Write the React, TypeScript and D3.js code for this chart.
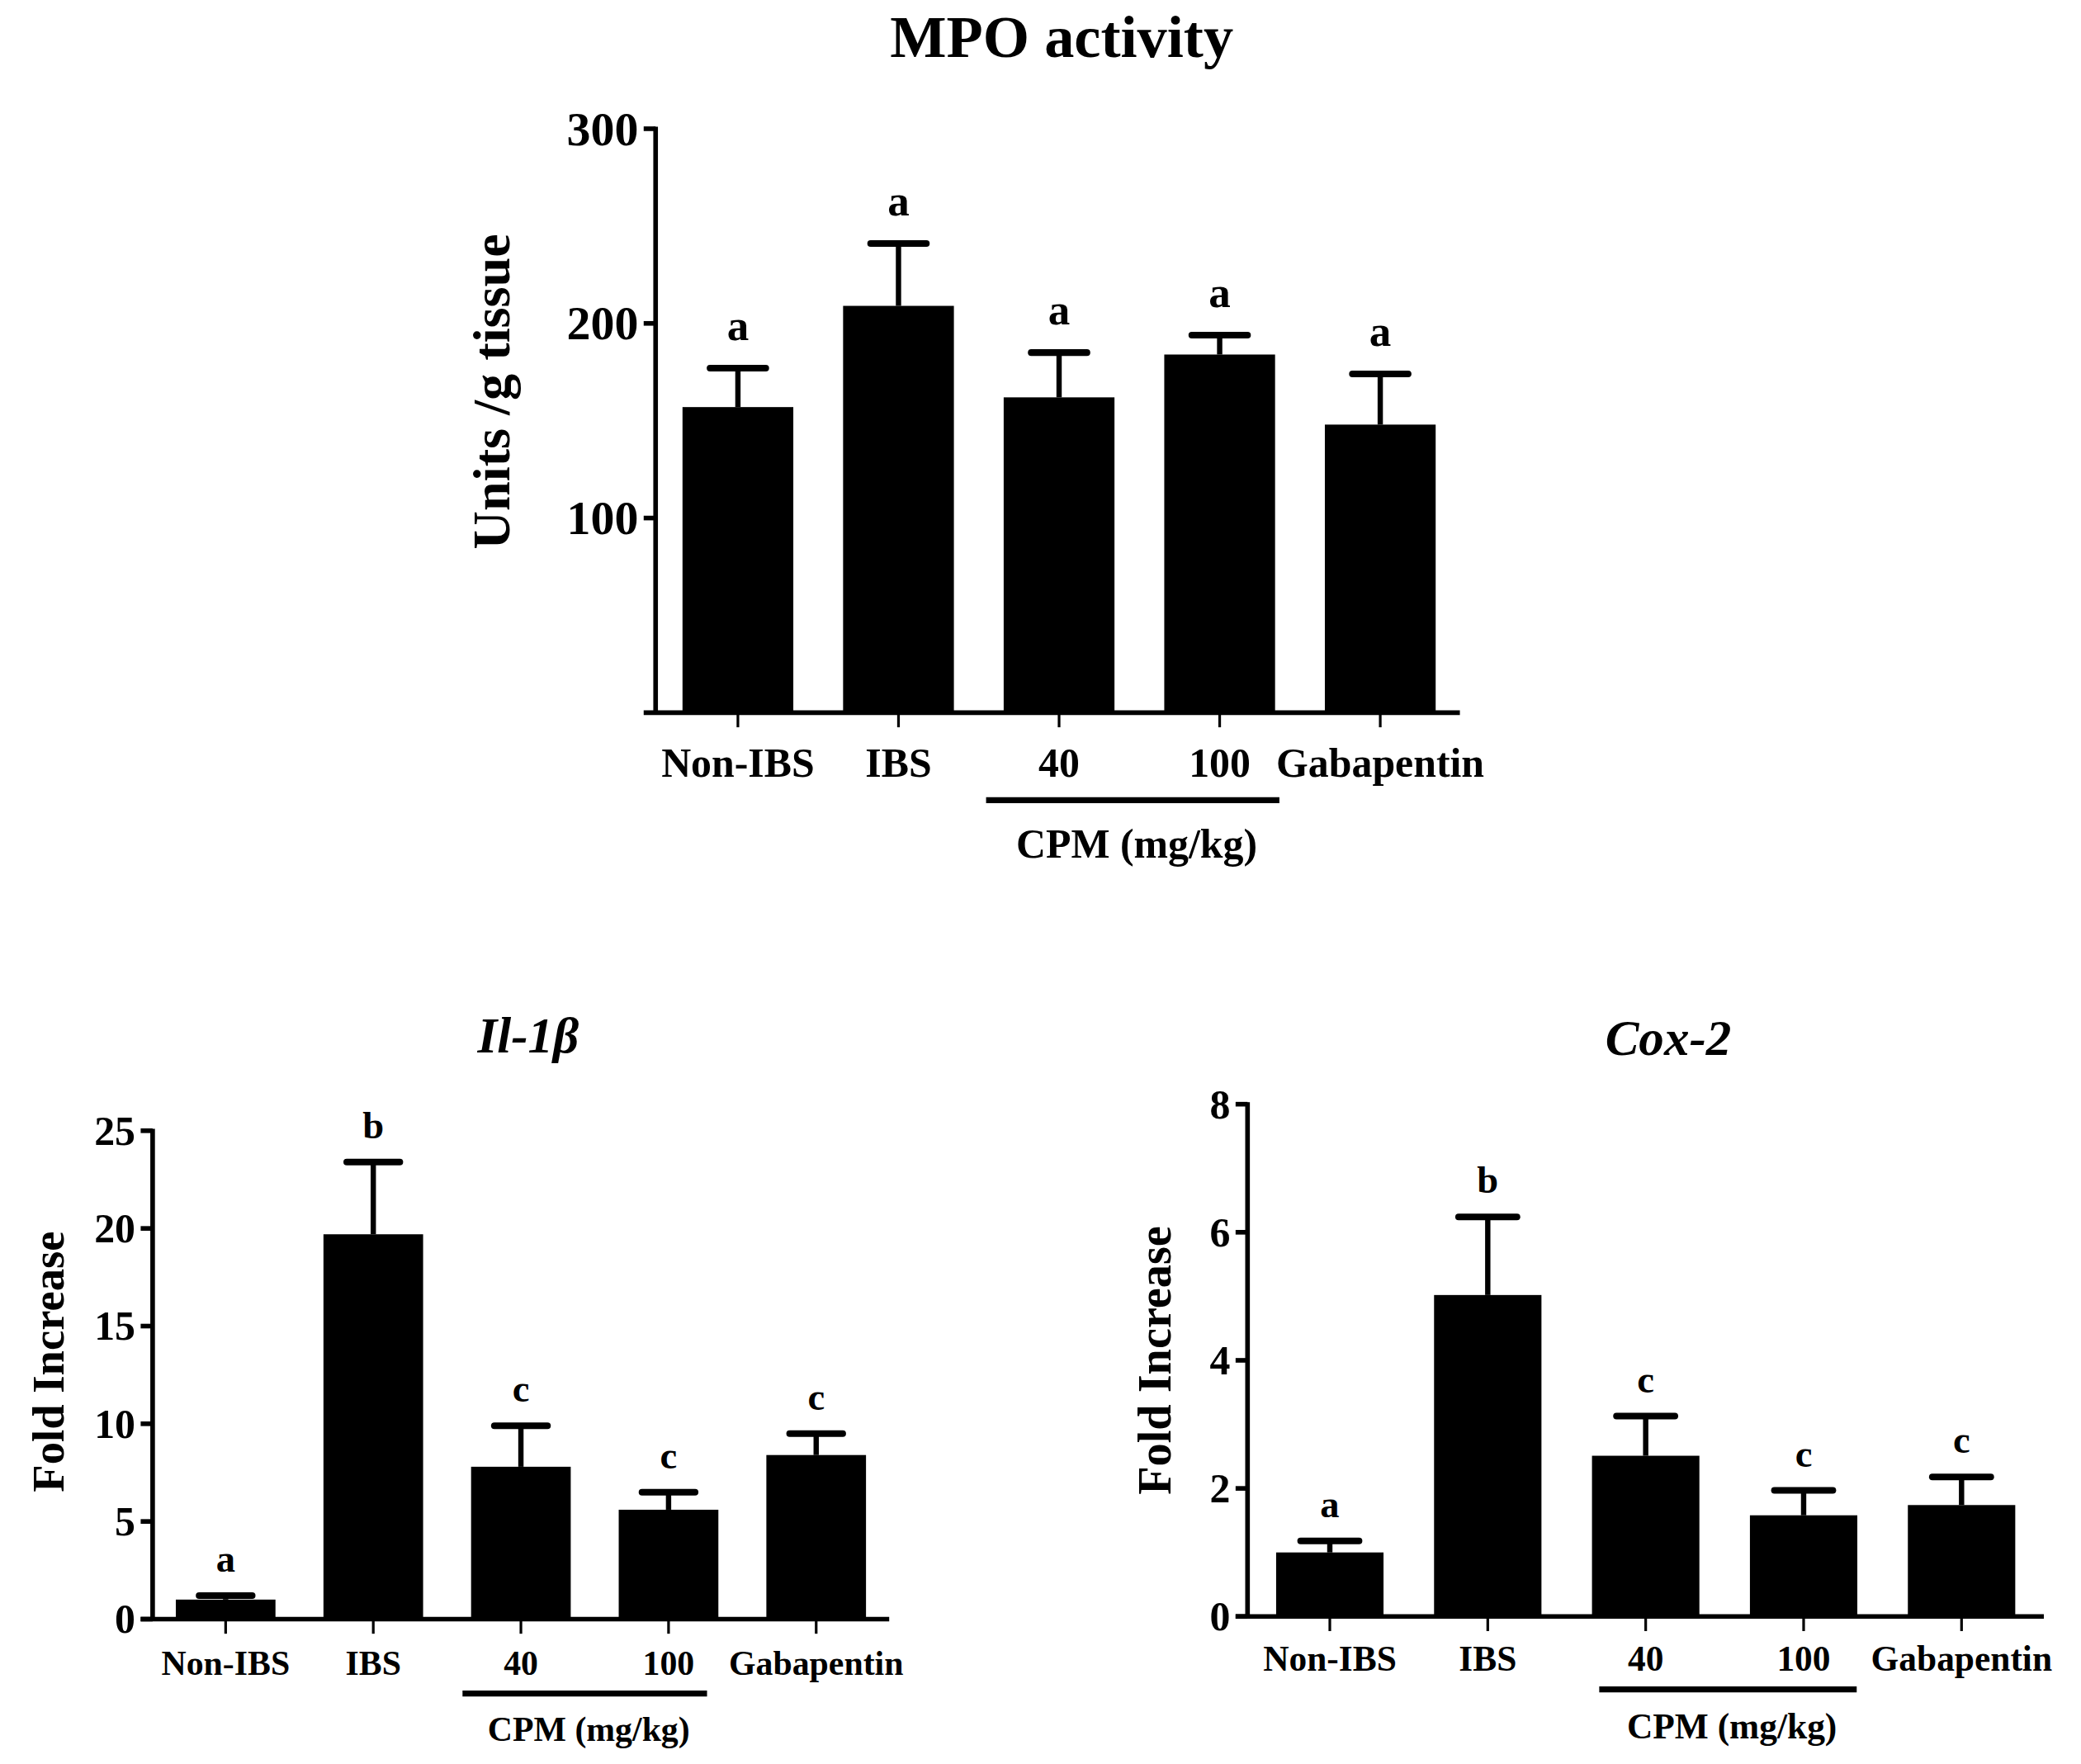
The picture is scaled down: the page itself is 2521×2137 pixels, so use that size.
import { useRef, useEffect } from "react";
import * as d3 from "d3";

// groups shared by all three panels
const groups = ["Non-IBS", "IBS", "40", "100", "Gabapentin"];

// MPO activity (Units /g tissue)
const mpoMeans = [157, 209, 162, 184, 148];
const mpoErrors = [20, 32, 23, 10, 26];
const mpoLetters = ["a", "a", "a", "a", "a"];
const mpoTicks = [100, 200, 300];

// Il-1β (fold increase)
const ilMeans = [1.0, 19.7, 7.8, 5.6, 8.4];
const ilErrors = [0.2, 3.7, 2.1, 0.9, 1.1];
const ilLetters = ["a", "b", "c", "c", "c"];
const ilTicks = [0, 5, 10, 15, 20, 25];

// Cox-2 (fold increase)
const coxMeans = [1.0, 5.02, 2.51, 1.58, 1.74];
const coxErrors = [0.18, 1.22, 0.62, 0.39, 0.44];
const coxLetters = ["a", "b", "c", "c", "c"];
const coxTicks = [0, 2, 4, 6, 8];

const FONT = "'Liberation Serif', 'Times New Roman', serif";
const W = 2521;
const H = 2137;
const VW = 1568;
const VH = (VW * H) / W;

const drawPanel = (svg, cfg) => {
  const g = svg.append("g");
  const x = d3
    .scaleBand()
    .domain(groups)
    .range(cfg.bandRange)
    .paddingInner(cfg.pad)
    .paddingOuter(cfg.pad / 2);
  const y = d3.scaleLinear().domain(cfg.domain).range([cfg.y0, cfg.y1]);

  // title
  g.append("text")
    .attr("x", cfg.titleX)
    .attr("y", cfg.titleY)
    .attr("text-anchor", "middle")
    .style("font-family", FONT)
    .style("font-weight", "bold")
    .style("font-style", cfg.italic ? "italic" : "normal")
    .style("font-size", `${cfg.titleSize}px`)
    .text(cfg.title);

  // bars
  g.selectAll("rect.bar")
    .data(cfg.means)
    .enter()
    .append("rect")
    .attr("class", "bar")
    .attr("x", (d, i) => x(groups[i]))
    .attr("width", x.bandwidth())
    .attr("y", (d) => y(d))
    .attr("height", (d) => y(0) - y(d))
    .attr("fill", "#000");

  // error bars (upper only) + significance letters
  cfg.means.forEach((m, i) => {
    const cx = x(groups[i]) + x.bandwidth() / 2;
    const top = y(m + cfg.errors[i]);
    g.append("line")
      .attr("x1", cx)
      .attr("x2", cx)
      .attr("y1", y(m))
      .attr("y2", top)
      .attr("stroke", "#000")
      .attr("stroke-width", 4);
    g.append("line")
      .attr("x1", cx - cfg.capHalf)
      .attr("x2", cx + cfg.capHalf)
      .attr("y1", top)
      .attr("y2", top)
      .attr("stroke", "#000")
      .attr("stroke-width", 5)
      .attr("stroke-linecap", "round");
    g.append("text")
      .attr("x", cx)
      .attr("y", top - cfg.letterGap)
      .attr("text-anchor", "middle")
      .style("font-family", FONT)
      .style("font-weight", "bold")
      .style("font-size", `${cfg.letterSize}px`)
      .text(cfg.letters[i]);
  });

  // y axis
  g.append("line")
    .attr("x1", cfg.axisX)
    .attr("x2", cfg.axisX)
    .attr("y1", y(cfg.domain[1]) - 1.5)
    .attr("y2", y(0))
    .attr("stroke", "#000")
    .attr("stroke-width", 3.5);
  cfg.ticks.forEach((t) => {
    g.append("line")
      .attr("x1", cfg.axisX - 9)
      .attr("x2", cfg.axisX)
      .attr("y1", y(t))
      .attr("y2", y(t))
      .attr("stroke", "#000")
      .attr("stroke-width", 3.5);
    g.append("text")
      .attr("x", cfg.axisX - 13)
      .attr("y", y(t))
      .attr("dy", "0.34em")
      .attr("text-anchor", "end")
      .style("font-family", FONT)
      .style("font-weight", "bold")
      .style("font-size", `${cfg.tickSize}px`)
      .text(t);
  });

  // x axis
  g.append("line")
    .attr("x1", cfg.axisX - 9)
    .attr("x2", cfg.xEnd)
    .attr("y1", y(0))
    .attr("y2", y(0))
    .attr("stroke", "#000")
    .attr("stroke-width", 3.5);
  groups.forEach((grp) => {
    const cx = x(grp) + x.bandwidth() / 2;
    g.append("line")
      .attr("x1", cx)
      .attr("x2", cx)
      .attr("y1", y(0))
      .attr("y2", y(0) + 11)
      .attr("stroke", "#000")
      .attr("stroke-width", 2);
    g.append("text")
      .attr("x", cx)
      .attr("y", y(0) + cfg.labelGap)
      .attr("text-anchor", "middle")
      .style("font-family", FONT)
      .style("font-weight", "bold")
      .style("font-size", `${cfg.labelSize}px`)
      .text(grp);
  });

  // CPM bracket under the two dose groups
  const b0 = x("40") + x.bandwidth() / 2 - cfg.lineLeft;
  const b1 = x("100") + x.bandwidth() / 2 + cfg.lineRight;
  g.append("line")
    .attr("x1", b0)
    .attr("x2", b1)
    .attr("y1", y(0) + cfg.lineGap)
    .attr("y2", y(0) + cfg.lineGap)
    .attr("stroke", "#000")
    .attr("stroke-width", 4.5);
  g.append("text")
    .attr("x", (b0 + b1) / 2 + 3)
    .attr("y", y(0) + cfg.cpmGap)
    .attr("text-anchor", "middle")
    .style("font-family", FONT)
    .style("font-weight", "bold")
    .style("font-size", `${cfg.labelSize}px`)
    .text("CPM (mg/kg)");

  // y label
  g.append("text")
    .attr(
      "transform",
      `translate(${cfg.yLabelX},${(y(0) + y(cfg.domain[1])) / 2 + cfg.yLabelDy}) rotate(-90)`
    )
    .attr("text-anchor", "middle")
    .style("font-family", FONT)
    .style("font-weight", "bold")
    .style("font-size", `${cfg.yLabelSize}px`)
    .text(cfg.yLabel);
};

const App = () => {
  const svgRef = useRef(null);

  useEffect(() => {
    const svg = d3.select(svgRef.current);
    svg.selectAll("*").remove();

    drawPanel(svg, {
      title: "MPO activity",
      italic: false,
      titleX: 800,
      titleY: 43,
      titleSize: 45,
      means: mpoMeans,
      errors: mpoErrors,
      letters: mpoLetters,
      ticks: mpoTicks,
      domain: [0, 300],
      y0: 537,
      y1: 97,
      bandRange: [495.5, 1100.5],
      pad: 0.31,
      axisX: 494,
      xEnd: 1100,
      capHalf: 21,
      letterGap: 21,
      letterSize: 33,
      tickSize: 36,
      labelSize: 31,
      labelGap: 48,
      lineLeft: 55,
      lineRight: 45,
      lineGap: 66,
      cpmGap: 109,
      yLabel: "Units /g tissue",
      yLabelX: 384,
      yLabelDy: -22,
      yLabelSize: 40,
    });

    drawPanel(svg, {
      title: "Il-1β",
      italic: true,
      titleX: 398,
      titleY: 793,
      titleSize: 38,
      means: ilMeans,
      errors: ilErrors,
      letters: ilLetters,
      ticks: ilTicks,
      domain: [0, 25],
      y0: 1220,
      y1: 852,
      bandRange: [114.4, 670.6],
      pad: 0.325,
      axisX: 115,
      xEnd: 670,
      capHalf: 20,
      letterGap: 18,
      letterSize: 29,
      tickSize: 31,
      labelSize: 26,
      labelGap: 42,
      lineLeft: 44,
      lineRight: 29,
      lineGap: 56,
      cpmGap: 92,
      yLabel: "Fold Increase",
      yLabelX: 48,
      yLabelDy: -10,
      yLabelSize: 34,
    });

    drawPanel(svg, {
      title: "Cox-2",
      italic: true,
      titleX: 1257,
      titleY: 795,
      titleSize: 38,
      means: coxMeans,
      errors: coxErrors,
      letters: coxLetters,
      ticks: coxTicks,
      domain: [0, 8],
      y0: 1218,
      y1: 832,
      bandRange: [942.5, 1537.5],
      pad: 0.32,
      axisX: 940,
      xEnd: 1540,
      capHalf: 22,
      letterGap: 18,
      letterSize: 29,
      tickSize: 31,
      labelSize: 27,
      labelGap: 41,
      lineLeft: 35,
      lineRight: 40,
      lineGap: 55,
      cpmGap: 92,
      yLabel: "Fold Increase",
      yLabelX: 882,
      yLabelDy: 0,
      yLabelSize: 35,
    });
  }, []);

  return (
    <svg
      ref={svgRef}
      width={W}
      height={H}
      viewBox={`0 0 ${VW} ${VH}`}
      style={{ position: "absolute", left: 0, top: 0, background: "#fff" }}
    ></svg>
  );
};

export default App;
